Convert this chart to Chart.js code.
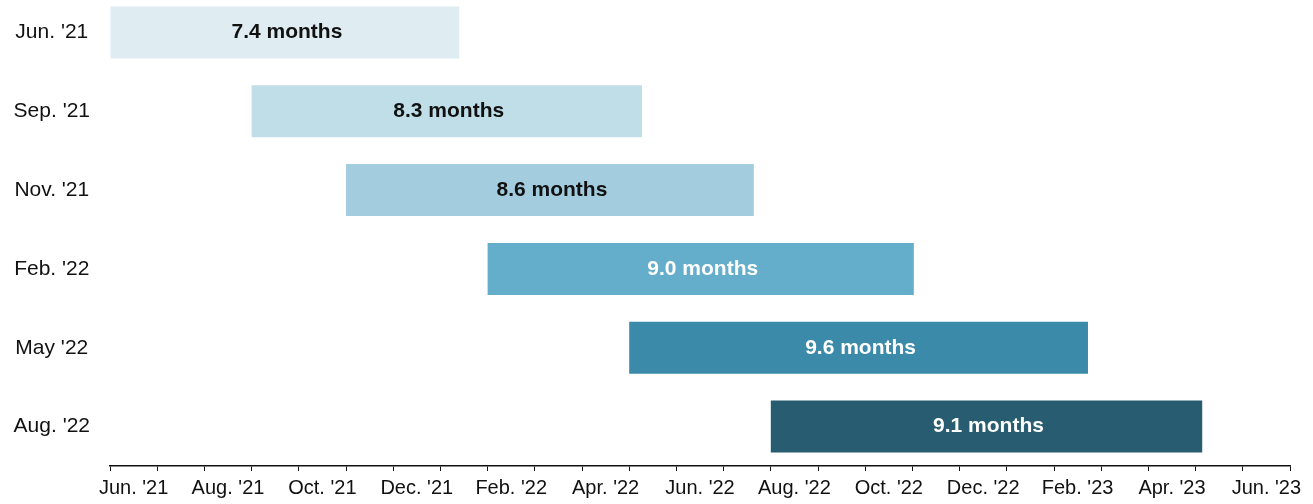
<!DOCTYPE html>
<html>
<head>
<meta charset="utf-8">
<script src="https://cdn.jsdelivr.net/npm/chart.js@4"></script>
<style>
  html, body { margin: 0; padding: 0; background: #fff; overflow: hidden; }
  #wrap { position: absolute; left: 0; top: -7px; width: 1313px; height: 511px; }
</style>
</head>
<body>
<div id="wrap"><canvas id="myChart"></canvas></div>
<script>
// months counted from the start of Jun. '21
var vintages = ["Jun. '21", "Sep. '21", "Nov. '21", "Feb. '22", "May '22", "Aug. '22"];
var barStart = [0, 3, 5, 8, 11, 14];
var barEnd = [7.4, 11.27, 13.64, 17.03, 20.72, 23.14];
var durations = ["7.4 months", "8.3 months", "8.6 months", "9.0 months", "9.6 months", "9.1 months"];
var monthTicks = ["Jun. '21", "Aug. '21", "Oct. '21", "Dec. '21", "Feb. '22", "Apr. '22", "Jun. '22",
                  "Aug. '22", "Oct. '22", "Dec. '22", "Feb. '23", "Apr. '23", "Jun. '23"];

var barColors = ['#dfecf2', '#bfdee8', '#a3cddf', '#64adcb', '#3b8aa9', '#285d71'];
var textColors = ['#111', '#111', '#111', '#fff', '#fff', '#fff'];

var barLabels = {
    id: 'barLabels',
    afterDatasetsDraw(chart) {
        var ctx = chart.ctx;
        var meta = chart.getDatasetMeta(0);
        ctx.save();
        ctx.font = 'bold 21px "Liberation Sans", Arial, sans-serif';
        ctx.textAlign = 'center';
        ctx.textBaseline = 'middle';
        meta.data.forEach(function(bar, i) {
            ctx.fillStyle = textColors[i];
            ctx.fillText(durations[i], (bar.x + bar.base) / 2 + 2, bar.y);
        });
        ctx.restore();
    }
};

var ctx = document.getElementById("myChart").getContext('2d');
var myChart = new Chart(ctx, {
    type: 'bar',
    data: {
        labels: vintages,
        datasets: [{
            data: vintages.map(function(v, i) { return [barStart[i], barEnd[i]]; }),
            backgroundColor: barColors,
            borderWidth: 0,
            categoryPercentage: 1,
            barPercentage: 0.66
        }]
    },
    options: {
        indexAxis: 'y',
        responsive: true,
        maintainAspectRatio: false,
        animation: false,
        layout: { padding: { top: 0, right: 23, bottom: 0, left: 0 } },
        plugins: { legend: { display: false }, tooltip: { enabled: false } },
        scales: {
            x: {
                type: 'linear',
                min: 0,
                max: 25,
                afterFit: function(scale) { scale.height = 38; },
                ticks: {
                    stepSize: 1,
                    autoSkip: false,
                    maxRotation: 0,
                    labelOffset: 23.6,
                    padding: 5,
                    color: '#111',
                    font: { family: '"Liberation Sans", Arial, sans-serif', size: 20 },
                    callback: function(v) {
                        return (v % 2 === 0 && v < 25) ? monthTicks[v / 2] : '';
                    }
                },
                grid: { drawOnChartArea: false, drawTicks: true, tickLength: 5, color: '#111', lineWidth: 1 },
                border: { display: true, color: '#111', width: 1.5 }
            },
            y: {
                afterFit: function(scale) {
                    scale.width = 110;
                    scale.paddingTop = 0;
                    scale.paddingBottom = 0;
                },
                ticks: {
                    padding: 0,
                    crossAlign: 'center',
                    color: '#111',
                    font: { family: '"Liberation Sans", Arial, sans-serif', size: 21 }
                },
                grid: { display: true, drawOnChartArea: false, drawTicks: true, tickLength: 20, color: 'rgba(0,0,0,0)' },
                border: { display: false }
            }
        }
    },
    plugins: [barLabels]
});
</script>
</body>
</html>
